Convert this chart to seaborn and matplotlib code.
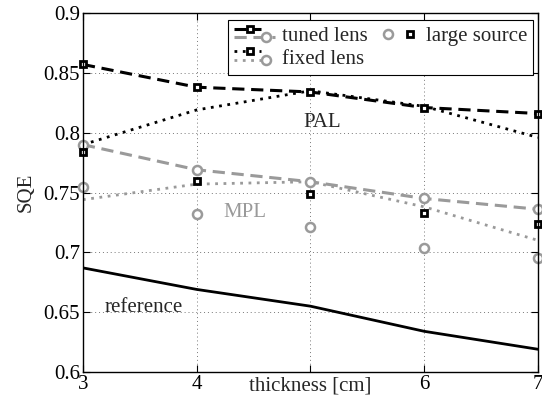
import matplotlib
matplotlib.use('Agg')
import matplotlib.pyplot as plt
import seaborn as sns
from matplotlib.lines import Line2D
from matplotlib.legend_handler import HandlerBase, HandlerTuple

# values
thickness = [3, 4, 5, 6, 7]
tuned_pal = [0.857, 0.838, 0.834, 0.821, 0.816]
tuned_mpl = [0.790, 0.769, 0.759, 0.745, 0.736]
fixed_pal = [0.790, 0.819, 0.835, 0.822, 0.796]
fixed_mpl = [0.744, 0.757, 0.759, 0.738, 0.710]
large_pal = [0.784, 0.760, 0.749, 0.733, 0.724]
large_mpl = [0.755, 0.732, 0.721, 0.704, 0.695]
reference = [0.687, 0.669, 0.655, 0.634, 0.619]

x_tick_labels = ['3', '4', '', '6', '7']
y_ticks = [0.6, 0.65, 0.7, 0.75, 0.8, 0.85, 0.9]
y_tick_labels = ['0.6', '0.65', '0.7', '0.75', '0.8', '0.85', '0.9']

GRAY = '#9a9a9a'
DASH = (0, (4, 2.2))
DOT = (0, (1, 2))

sns.set_style('ticks')
plt.rcParams['font.family'] = ['Liberation Serif', 'DejaVu Serif']
plt.rcParams['font.size'] = 15


class PairHandler(HandlerBase):
    # draws two styled lines stacked, like the MATLAB legend
    def create_artists(self, legend, orig_handle, xdescent, ydescent,
                       width, height, fontsize, trans):
        out = []
        for h, x1, yf, mf in ((orig_handle[0], 0.65, 0.85, 0.38),
                              (orig_handle[1], 1.0, 0.25, 0.78)):
            y = yf * height - ydescent
            ln = Line2D([-xdescent, x1 * width - xdescent], [y, y])
            ln.update_from(h)
            ln.set_marker('None')
            mk = Line2D([mf * width - xdescent], [y])
            mk.update_from(h)
            mk.set_linestyle('none')
            for a in (ln, mk):
                a.set_transform(trans)
                out.append(a)
        return out


fig = plt.figure(figsize=(5.42, 4), dpi=100)
ax = fig.add_axes([0.153, 0.07, 0.8396, 0.8975])

sq = dict(marker='s', markersize=4.6, markerfacecolor='white',
          markeredgecolor='black', markeredgewidth=2.0)
ci = dict(marker='o', markersize=6.5, markerfacecolor='white',
          markeredgecolor=GRAY, markeredgewidth=1.8)

sns.lineplot(x=thickness, y=reference, ax=ax, color='black', lw=2)
sns.lineplot(x=thickness, y=fixed_pal, ax=ax, color='black', lw=2, linestyle=DOT)
sns.lineplot(x=thickness, y=fixed_mpl, ax=ax, color=GRAY, lw=2, linestyle=DOT)
sns.lineplot(x=thickness, y=tuned_mpl, ax=ax, color=GRAY, lw=2.2, linestyle=DASH,
             clip_on=False, **ci)
sns.lineplot(x=thickness, y=tuned_pal, ax=ax, color='black', lw=2.2, linestyle=DASH,
             clip_on=False, **sq)
sns.lineplot(x=thickness, y=large_mpl, ax=ax, color=GRAY, linestyle='none',
             clip_on=False, **ci)
sns.lineplot(x=thickness, y=large_pal, ax=ax, color='black', linestyle='none',
             clip_on=False, **sq)

ax.text(5.1, 0.8085, 'PAL', ha='center', va='center', fontsize=15)
ax.text(4.42, 0.733, 'MPL', ha='center', va='center', fontsize=15, color=GRAY)
ax.text(3.53, 0.654, 'reference', ha='center', va='center', fontsize=15)

ax.set_xlim(3, 7)
ax.set_ylim(0.6, 0.9)
ax.set_xticks(thickness)
ax.set_xticklabels(x_tick_labels)
ax.set_yticks(y_ticks)
ax.set_yticklabels(y_tick_labels)
ax.tick_params(direction='in', top=True, right=True, length=5, width=0.8,
               pad=2, labelsize=15, colors='black')
ax.grid(True, linestyle=(0, (1, 3)), color='#777777', linewidth=0.7)
for s in ax.spines.values():
    s.set_linewidth(1.0)
    s.set_color('black')

ax.set_xlabel('thickness [cm]', fontsize=15)
ax.xaxis.set_label_coords(0.5, -0.012)
ax.set_ylabel('SQE', fontsize=15, labelpad=6)

h_tuned = (Line2D([], [], color='black', lw=2.2, linestyle=DASH, **sq),
           Line2D([], [], color=GRAY, lw=2.2, linestyle=DASH, **ci))
h_fixed = (Line2D([], [], color='black', lw=2, linestyle=DOT, **sq),
           Line2D([], [], color=GRAY, lw=2, linestyle=DOT, **ci))
h_large = (Line2D([], [], color=GRAY, linestyle='none', **ci),
           Line2D([], [], color='black', linestyle='none', **sq))

leg = ax.legend([h_tuned, h_fixed, h_large], ['tuned lens', 'fixed lens', 'large source'],
                handler_map={h_tuned: PairHandler(), h_fixed: PairHandler(),
                             h_large: HandlerTuple(ndivide=None, pad=0.1)},
                ncol=2, loc='upper right', bbox_to_anchor=(0.99, 0.98),
                borderaxespad=0, fontsize=15, handlelength=2.0, handletextpad=0.3,
                columnspacing=0.5, borderpad=0.3, labelspacing=0.15,
                fancybox=False, framealpha=1, edgecolor='black')
leg.get_frame().set_linewidth(0.8)

fig.savefig('out.png', dpi=100)
